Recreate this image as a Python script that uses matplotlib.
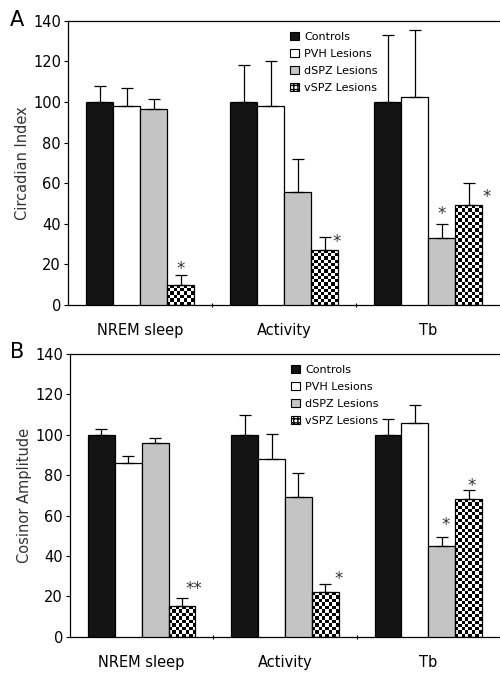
import numpy as np
import matplotlib
matplotlib.use("Agg")
import matplotlib.pyplot as plt
from matplotlib.patches import Patch

CATEGORIES = ["NREM sleep", "Activity", "Tb"]
GROUPS = ["Controls", "PVH Lesions", "dSPZ Lesions", "vSPZ Lesions"]

# Panel A: Circadian Index (mean, upper error)
A_MEAN = {
    "Controls":     [100, 100, 100],
    "PVH Lesions":  [98, 98, 102.5],
    "dSPZ Lesions": [96.5, 55.5, 33],
    "vSPZ Lesions": [10, 27, 49],
}
A_ERR = {
    "Controls":     [8, 18, 33],
    "PVH Lesions":  [9, 22, 33],
    "dSPZ Lesions": [5, 16.5, 7],
    "vSPZ Lesions": [4.5, 6.5, 11],
}
A_STARS = {"vSPZ Lesions": ["*", "*", "*"], "dSPZ Lesions": ["", "", "*"]}

# Panel B: Cosinor Amplitude
B_MEAN = {
    "Controls":     [100, 100, 100],
    "PVH Lesions":  [86, 88, 106],
    "dSPZ Lesions": [96, 69, 45],
    "vSPZ Lesions": [15, 22, 68],
}
B_ERR = {
    "Controls":     [3, 10, 8],
    "PVH Lesions":  [3.5, 12.5, 8.5],
    "dSPZ Lesions": [2.5, 12, 4.5],
    "vSPZ Lesions": [4, 4, 4.5],
}
B_STARS = {"vSPZ Lesions": ["**", "*", "*"], "dSPZ Lesions": ["", "", "*"]}

# star placement relative to the error cap: (dx in data units, dy above cap)
A_STAR_POS = {"vSPZ Lesions": [(0, 4), (0.085, -1.5), (0.125, -6)],
              "dSPZ Lesions": [None, None, (0, 6)]}
B_STAR_POS = {"vSPZ Lesions": [(0.08, 5.5), (0.09, 3.5), (0.02, 3)],
              "dSPZ Lesions": [None, None, (0.03, 7)]}

COLORS = {
    "Controls": "#141414",
    "PVH Lesions": "white",
    "dSPZ Lesions": "#c4c4c4",
    "vSPZ Lesions": "white",
}
BAR_W = 0.1875
CELL_PX = 3.3


def checker_fill(ax, rect):
    # fill a bar with a black/white checkerboard, clipped to the bar
    x0, w, h = rect.get_x(), rect.get_width(), rect.get_height()
    if h <= 0:
        return
    p0 = ax.transData.transform((x0, 0))
    p1 = ax.transData.transform((x0 + w, h))
    nx = max(1, int(round(abs(p1[0] - p0[0]) / CELL_PX)))
    ny = max(1, int(round(abs(p1[1] - p0[1]) / CELL_PX)))
    ii, jj = np.indices((ny, nx))
    img = ((ii + jj) % 2).astype(float)
    im = ax.imshow(img, extent=(x0, x0 + w, 0, h), cmap="gray",
                   interpolation="nearest", aspect="auto", origin="lower",
                   zorder=2, vmin=0, vmax=1)
    im.set_clip_path(rect)


def panel(ax, means, errs, stars, star_pos, ylabel, letter, letter_y):
    x = np.arange(len(CATEGORIES))
    ax.set_xlim(-0.5, 2.5)
    ax.set_ylim(0, 140)
    offsets = (np.arange(len(GROUPS)) - 1.5) * BAR_W
    for g, off in zip(GROUPS, offsets):
        bars = ax.bar(x + off, means[g], BAR_W, color=COLORS[g],
                      edgecolor="black", linewidth=0.9, zorder=3)
        ax.errorbar(x + off, means[g], yerr=[np.zeros(3), errs[g]], fmt="none",
                    ecolor="black", elinewidth=0.9, capsize=4, capthick=0.9, zorder=4)
        if g == "vSPZ Lesions":
            for b in bars:
                b.set_facecolor("none")
                checker_fill(ax, b)
        for i, s in enumerate(stars.get(g, [])):
            if s:
                dx, dy = star_pos[g][i]
                top = means[g][i] + errs[g][i] + dy
                ax.text(x[i] + off + dx, top - 3.5, s, ha="center", va="baseline",
                        fontsize=12, color="#333333")

    ax.set_xticks([0.5, 1.5])
    ax.set_xticklabels([])
    ax.tick_params(axis="x", length=3, direction="inout", width=0.8)
    ax.tick_params(axis="y", length=3, width=0.8, labelsize=10.5, pad=2)
    ax.set_yticks(np.arange(0, 141, 20))
    for i, c in enumerate(CATEGORIES):
        ax.text(x[i], -0.065, c, transform=ax.get_xaxis_transform(),
                ha="center", va="top", fontsize=10.5)
    ax.set_ylabel(ylabel, fontsize=10.5, color="#333333", labelpad=2)
    ax.spines["right"].set_visible(False)
    for s in ("left", "bottom", "top"):
        ax.spines[s].set_linewidth(0.9)
    fig.text(0.02, letter_y, letter, fontsize=15, ha="left", va="center")
    handles = [Patch(facecolor=COLORS[g], edgecolor="black", linewidth=0.8,
                     hatch="++++" if g == "vSPZ Lesions" else None)
               for g in GROUPS]
    ax.legend(handles, GROUPS, loc="upper left", bbox_to_anchor=(0.515, 0.962),
              frameon=False, fontsize=8, handlelength=0.8, handleheight=0.8,
              handletextpad=0.45, labelspacing=0.62, borderaxespad=0,
              borderpad=0)


fig = plt.figure(figsize=(5.0, 6.73), dpi=100)
ax1 = fig.add_axes([0.136, 0.547, 0.864, 0.422])
ax2 = fig.add_axes([0.140, 0.054, 0.860, 0.420])
panel(ax1, A_MEAN, A_ERR, A_STARS, A_STAR_POS, "Circadian Index", "A", 1 - 20 / 673)
panel(ax2, B_MEAN, B_ERR, B_STARS, B_STAR_POS, "Cosinor Amplitude", "B", 1 - 352 / 673)

fig.savefig("out.png", dpi=100)
